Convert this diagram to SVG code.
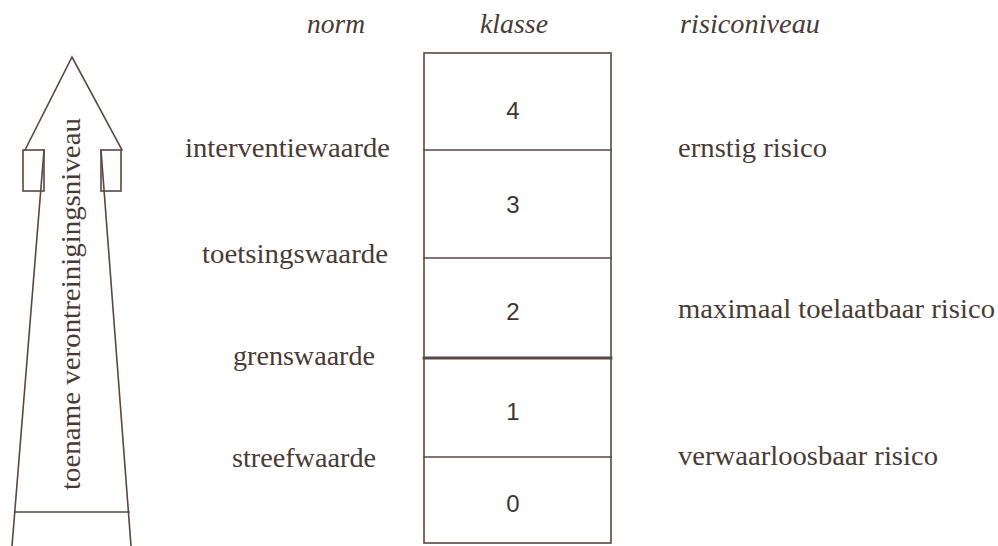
<svg xmlns="http://www.w3.org/2000/svg" width="998" height="546" viewBox="0 0 998 546">
<style>
.ln{fill:none;stroke:#5a4741;stroke-width:1.6;stroke-linecap:square}
.t{font-family:"Liberation Serif","Times New Roman",serif;font-size:28px;fill:#4a3a35}
.h{font-family:"Liberation Serif","Times New Roman",serif;font-size:28px;font-style:italic;fill:#4a3a35}
.d{font-family:"Liberation Sans",Arial,sans-serif;font-size:24px;fill:#3f3430;text-anchor:middle}
</style>
<rect width="998" height="546" fill="#ffffff"/>
<g id="arrow">
<path class="ln" d="M25,150 L72,57 L122,150"/>
<rect class="ln" x="23" y="150" width="21" height="41"/>
<rect class="ln" x="101" y="150" width="20" height="41"/>
<path class="ln" d="M44,150 L12,546 M101,150 L131,546 M15,512 L129,512"/>
<text class="t" transform="translate(80,490) rotate(-90)" textLength="372" lengthAdjust="spacingAndGlyphs">toename verontreinigingsniveau</text>
</g>
<g id="headers">
<text class="h" x="307" y="33" textLength="58" lengthAdjust="spacingAndGlyphs">norm</text>
<text class="h" x="480" y="33" textLength="68" lengthAdjust="spacingAndGlyphs">klasse</text>
<text class="h" x="680" y="33" textLength="140" lengthAdjust="spacingAndGlyphs">risiconiveau</text>
</g>
<g id="klasse-box">
<rect class="ln" x="424" y="53" width="187" height="490"/>
<path class="ln" d="M424,150 L611,150 M424,258 L611,258 M424,457 L611,457"/>
<path class="ln" style="stroke-width:2.8" d="M424,358 L611,358"/>
<text class="d" x="513" y="119">4</text>
<text class="d" x="513" y="213">3</text>
<text class="d" x="513" y="320">2</text>
<text class="d" x="513" y="420">1</text>
<text class="d" x="513" y="512">0</text>
</g>
<g id="norm-labels">
<text class="t" x="185" y="157" textLength="205" lengthAdjust="spacingAndGlyphs">interventiewaarde</text>
<text class="t" x="202" y="263" textLength="186" lengthAdjust="spacingAndGlyphs">toetsingswaarde</text>
<text class="t" x="233" y="365" textLength="142" lengthAdjust="spacingAndGlyphs">grenswaarde</text>
<text class="t" x="232" y="467" textLength="144" lengthAdjust="spacingAndGlyphs">streefwaarde</text>
</g>
<g id="risk-labels">
<text class="t" x="678" y="157" textLength="149" lengthAdjust="spacingAndGlyphs">ernstig risico</text>
<text class="t" x="678" y="318" textLength="317" lengthAdjust="spacingAndGlyphs">maximaal toelaatbaar risico</text>
<text class="t" x="678" y="465" textLength="260" lengthAdjust="spacingAndGlyphs">verwaarloosbaar risico</text>
</g>
<g id="connectors"></g>
</svg>
